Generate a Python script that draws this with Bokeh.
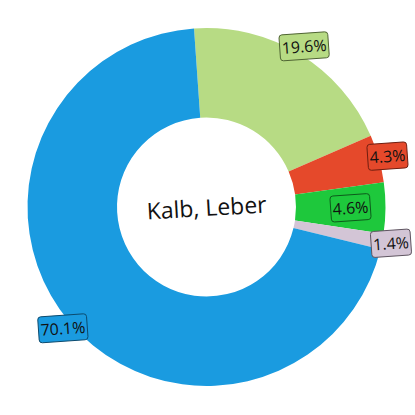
import numpy as np
from bokeh.plotting import figure
from bokeh.models import ColumnDataSource, Range1d
from bokeh.core.properties import value
from bokeh.embed import file_html
from bokeh.resources import INLINE

title = "Kalb, Leber"
categories = ["A", "B", "C", "D", "E"]
values = [19.6, 4.3, 4.6, 1.4, 70.1]
labels = ["19.6%", "4.3%", "4.6%", "1.4%", "70.1%"]
colors = ["#b7db84", "#e5492b", "#1ec83c", "#d3c5d6", "#1a9be0"]
borders = ["#4f6433", "#6e1d0f", "#0d5a1b", "#5e5460", "#0b4a6e"]
placement = ["outside", "outside", "inside", "outside", "outside"]

rotation = 4.0
start0 = 90.0 + rotation
R_OUT, R_IN = 179.0, 89.5
R_LAB_OUT, R_LAB_IN = 188.0, 144.0

v = np.array(values, dtype=float)
frac = v / v.sum() * 360.0
starts = start0 - np.concatenate([[0], np.cumsum(frac)[:-1]])
ends = starts - frac
mids = (starts + ends) / 2.0
rl = np.array([R_LAB_OUT if p == "outside" else R_LAB_IN for p in placement])
lx = rl * np.cos(np.radians(mids))
ly = rl * np.sin(np.radians(mids))

src = ColumnDataSource(dict(cat=categories, start=np.radians(starts), end=np.radians(ends),
                            color=colors, border=borders, lx=lx, ly=ly, label=labels))

p = figure(width=415, height=415, output_backend="svg", toolbar_location=None,
           x_range=Range1d(-206, 209), y_range=Range1d(-208.5, 206.5),
           min_border=0)
p.axis.visible = False
p.grid.visible = False
p.outline_line_color = None
p.background_fill_color = "white"

p.annular_wedge(x=0, y=0, inner_radius=R_IN, outer_radius=R_OUT,
                start_angle="start", end_angle="end", direction="clock",
                fill_color="color", line_color=None, source=src)

p.text(x="lx", y="ly", text="label", source=src, text_align="center", text_baseline="middle",
       text_font=value("Open Sans"), text_font_size="16px", text_color="#111111",
       angle=rotation, angle_units="deg",
       background_fill_color="color", border_line_color="border", border_line_width=1,
       padding=2, border_radius=3)

p.text(x=[0], y=[0], text=[title], text_align="center", text_baseline="middle",
       text_font=value("Open Sans"), text_font_size="23px", text_color="#111111",
       angle=3.3, angle_units="deg")

open("out.html", "w").write(file_html(p, INLINE))
